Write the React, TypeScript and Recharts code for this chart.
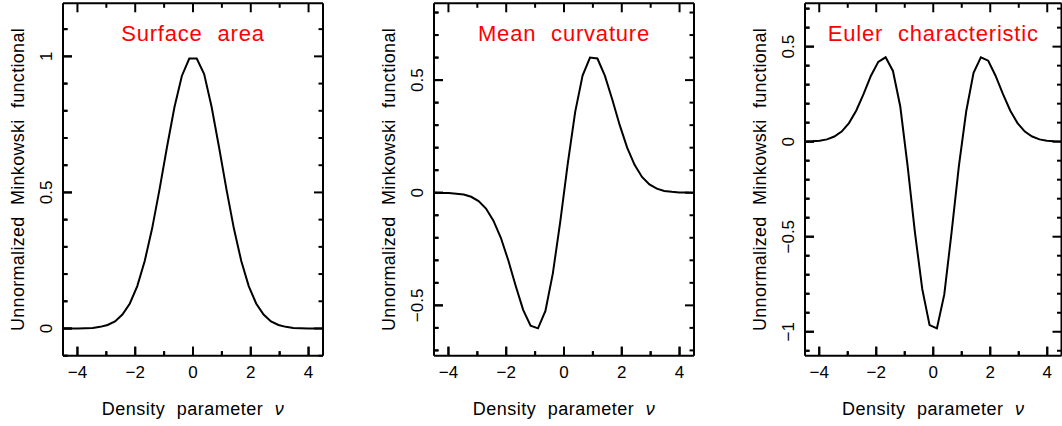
import React from 'react';
import { LineChart, Line, XAxis, YAxis } from 'recharts';

// Density parameter values (sample positions)
const nu = [
  -4.5, -4.243, -3.986, -3.729, -3.471, -3.214, -2.957, -2.7, -2.443, -2.186, -1.929, -1.671,
  -1.414, -1.157, -0.9, -0.643, -0.386, -0.129, 0.129, 0.386, 0.643, 0.9, 1.157, 1.414,
  1.671, 1.929, 2.186, 2.443, 2.7, 2.957, 3.214, 3.471, 3.729, 3.986, 4.243, 4.5,
];

const surfaceArea = [
  0.0, 0.0, 0.0, 0.001, 0.002, 0.006, 0.013, 0.026, 0.051, 0.092, 0.156, 0.248,
  0.368, 0.512, 0.667, 0.813, 0.928, 0.992, 0.992, 0.935, 0.815, 0.667, 0.512, 0.368,
  0.248, 0.156, 0.092, 0.051, 0.026, 0.013, 0.006, 0.002, 0.001, 0.0, 0.0, 0.0,
];

const meanCurvature = [
  0.0, -0.001, -0.001, -0.004, -0.008, -0.018, -0.037, -0.07, -0.124, -0.2, -0.3, -0.414,
  -0.52, -0.59, -0.602, -0.525, -0.358, -0.128, 0.128, 0.358, 0.52, 0.6, 0.596, 0.52,
  0.414, 0.3, 0.2, 0.124, 0.07, 0.037, 0.018, 0.008, 0.004, 0.001, 0.001, 0.0,
];

const eulerCharacteristic = [
  0.001, 0.002, 0.005, 0.012, 0.027, 0.053, 0.098, 0.164, 0.251, 0.347, 0.42, 0.444,
  0.372, 0.185, -0.127, -0.477, -0.775, -0.965, -0.982, -0.805, -0.477, -0.127, 0.16, 0.362,
  0.444, 0.426, 0.347, 0.251, 0.164, 0.098, 0.053, 0.027, 0.012, 0.005, 0.002, 0.001,
];

const xTicks = [-4, -3, -2, -1, 0, 1, 2, 3, 4];
const surfaceTicks = [-0.1, 0, 0.1, 0.2, 0.3, 0.4, 0.5, 0.6, 0.7, 0.8, 0.9, 1, 1.1];
const meanTicks = [-0.7, -0.6, -0.5, -0.4, -0.3, -0.2, -0.1, 0, 0.1, 0.2, 0.3, 0.4, 0.5, 0.6, 0.7, 0.8];
const eulerTicks = [-1.1, -1, -0.9, -0.8, -0.7, -0.6, -0.5, -0.4, -0.3, -0.2, -0.1, 0, 0.1, 0.2, 0.3, 0.4, 0.5, 0.6, 0.7];

const titles = ['Surface area', 'Mean curvature', 'Euler characteristic'];
const xLabel = 'Density parameter ';
const xLabelSymbol = 'ν';
const yLabel = 'Unnormalized Minkowski functional';

const FONT = '"Liberation Sans", Arial, Helvetica, sans-serif';
const AXIS_W = 60;
const PLOT_TOP = 3.3;
const BOTTOM_H = 70.3;
const PLOT_H = 426 - PLOT_TOP - BOTTOM_H;
const MAJOR_LEN = 9;
const MINOR_LEN = 4.5;

const isMajor = (v: number, step: number) => Math.abs(v / step - Math.round(v / step)) < 1e-6;
const fmt = (v: number) => {
  const r = Math.round(v * 10) / 10;
  const s = String(Math.abs(r));
  return r < 0 ? '\u2212' + s : s;
};

// Top axis: inward ticks on the top edge and the matching ones on the bottom edge.
const topTick = (props: any) => {
  const x = Number(props.x);
  const y = Number(props.y);
  const len = isMajor(Number(props.payload.value), 2) ? MAJOR_LEN : MINOR_LEN;
  const yb = y + PLOT_H;
  return (
    <g>
      <line x1={x} y1={y} x2={x} y2={y + len} stroke="#000" strokeWidth={2} />
      <line x1={x} y1={yb} x2={x} y2={yb - len} stroke="#000" strokeWidth={2} />
    </g>
  );
};

// Right axis: inward ticks on the right edge and the matching ones on the left edge.
const makeRightTick = (plotW: number) => (props: any) => {
  const x = Number(props.x);
  const y = Number(props.y);
  const len = isMajor(Number(props.payload.value), 0.5) ? MAJOR_LEN : MINOR_LEN;
  const xl = x - plotW;
  return (
    <g>
      <line x1={x} y1={y} x2={x - len} y2={y} stroke="#000" strokeWidth={2} />
      <line x1={xl} y1={y} x2={xl + len} y2={y} stroke="#000" strokeWidth={2} />
    </g>
  );
};

const bottomTick = (props: any) => {
  const x = Number(props.x);
  const y = Number(props.y);
  const v = Number(props.payload.value);
  const major = isMajor(v, 2);
  return (
    <g>
      <line x1={x} y1={y} x2={x} y2={y - (major ? MAJOR_LEN : MINOR_LEN)} stroke="#000" strokeWidth={2} />
      {major && (
        <text x={x} y={y + 22.7} textAnchor="middle" fill="#000" stroke="none" fontSize={17} fontFamily={FONT}>
          {fmt(v)}
        </text>
      )}
    </g>
  );
};

const leftTick = (props: any) => {
  const x = Number(props.x);
  const y = Number(props.y);
  const v = Number(props.payload.value);
  const major = isMajor(v, 0.5);
  const tx = x - 11;
  return (
    <g>
      <line x1={x} y1={y} x2={x + (major ? MAJOR_LEN : MINOR_LEN)} y2={y} stroke="#000" strokeWidth={2} />
      {major && (
        <text
          x={tx}
          y={y}
          textAnchor="middle"
          transform={`rotate(-90 ${tx} ${y})`}
          fill="#000"
          stroke="none"
          fontSize={17}
          fontFamily={FONT}
        >
          {fmt(v)}
        </text>
      )}
    </g>
  );
};

const axisLine = { stroke: '#000', strokeWidth: 2 };

type PanelProps = {
  plotLeft: number;
  plotW: number;
  values: number[];
  yDomain: [number, number];
  yTicks: number[];
  title: string;
};

function Panel({ plotLeft, plotW, values, yDomain, yTicks, title }: PanelProps) {
  const data = nu.map((n, i) => ({ nu: n, v: values[i] }));
  return (
    <div style={{ position: 'absolute', left: plotLeft - AXIS_W, top: 0 }}>
      <LineChart
        width={AXIS_W + plotW + 4}
        height={426}
        data={data}
        margin={{ top: PLOT_TOP - 1, right: 3, bottom: 0, left: 0 }}
      >
        <XAxis
          xAxisId="b"
          dataKey="nu"
          type="number"
          domain={[-4.5, 4.5]}
          allowDataOverflow
          ticks={xTicks}
          interval={0}
          height={BOTTOM_H}
          tickSize={0}
          tickMargin={0}
          tickLine={false}
          axisLine={axisLine}
          tick={bottomTick}
          label={{
            content: (p: any) => {
              const vb = p.viewBox || { x: AXIS_W, y: 355.7, width: plotW, height: BOTTOM_H };
              return (
                <text
                  x={vb.x + vb.width / 2}
                  y={vb.y + 58.8}
                  textAnchor="middle"
                  fill="#000"
                  fontSize={18}
                  fontFamily={FONT}
                  style={{ letterSpacing: '0.5px', wordSpacing: '6px' }}
                >
                  {xLabel}
                  <tspan fontStyle="italic">{xLabelSymbol}</tspan>
                </text>
              );
            },
          }}
        />
        <XAxis
          xAxisId="t"
          orientation="top"
          dataKey="nu"
          type="number"
          domain={[-4.5, 4.5]}
          allowDataOverflow
          ticks={xTicks}
          interval={0}
          height={1}
          tickSize={0}
          tickMargin={0}
          tickLine={false}
          axisLine={axisLine}
          tick={topTick}
          label={{
            content: (p: any) => {
              const vb = p.viewBox || { x: AXIS_W, y: PLOT_TOP, width: plotW, height: 0 };
              return (
                <text
                  x={vb.x + vb.width / 2}
                  y={PLOT_TOP + 37.2}
                  textAnchor="middle"
                  fill="#ff0000"
                  fontSize={22}
                  fontFamily={FONT}
                  style={{ letterSpacing: '0.8px', wordSpacing: '8px' }}
                >
                  {title}
                </text>
              );
            },
          }}
        />
        <YAxis
          yAxisId="l"
          type="number"
          domain={yDomain}
          allowDataOverflow
          ticks={yTicks}
          interval={0}
          width={AXIS_W}
          tickSize={0}
          tickMargin={0}
          tickLine={false}
          axisLine={axisLine}
          tick={leftTick}
          label={{
            content: (p: any) => {
              const vb = p.viewBox || { x: 0, y: PLOT_TOP, width: AXIS_W, height: PLOT_H };
              const tx = vb.x + vb.width - 38.8;
              const ty = vb.y + vb.height / 2;
              return (
                <text
                  x={tx}
                  y={ty}
                  textAnchor="middle"
                  transform={`rotate(-90 ${tx} ${ty})`}
                  fill="#000"
                  fontSize={18}
                  fontFamily={FONT}
                  style={{ letterSpacing: '0.3px', wordSpacing: '6px' }}
                >
                  {yLabel}
                </text>
              );
            },
          }}
        />
        <YAxis
          yAxisId="r"
          orientation="right"
          type="number"
          domain={yDomain}
          allowDataOverflow
          ticks={yTicks}
          interval={0}
          width={1}
          tickSize={0}
          tickMargin={0}
          tickLine={false}
          axisLine={axisLine}
          tick={makeRightTick(plotW)}
        />
        <Line
          xAxisId="b"
          yAxisId="l"
          type="linear"
          dataKey="v"
          stroke="#000"
          strokeWidth={2}
          dot={false}
          activeDot={false}
          isAnimationActive={false}
        />
      </LineChart>
    </div>
  );
}

export default function App() {
  return (
    <div
      style={{
        position: 'absolute',
        left: 0,
        top: 0,
        width: 1062,
        height: 426,
        overflow: 'hidden',
        background: '#fff',
      }}
    >
      <Panel plotLeft={63.3} plotW={260} values={surfaceArea} yDomain={[-0.1, 1.195]} yTicks={surfaceTicks} title={titles[0]} />
      <Panel plotLeft={434} plotW={260} values={meanCurvature} yDomain={[-0.7235, 0.841]} yTicks={meanTicks} title={titles[1]} />
      <Panel plotLeft={805} plotW={256.5} values={eulerCharacteristic} yDomain={[-1.126, 0.728]} yTicks={eulerTicks} title={titles[2]} />
    </div>
  );
}
